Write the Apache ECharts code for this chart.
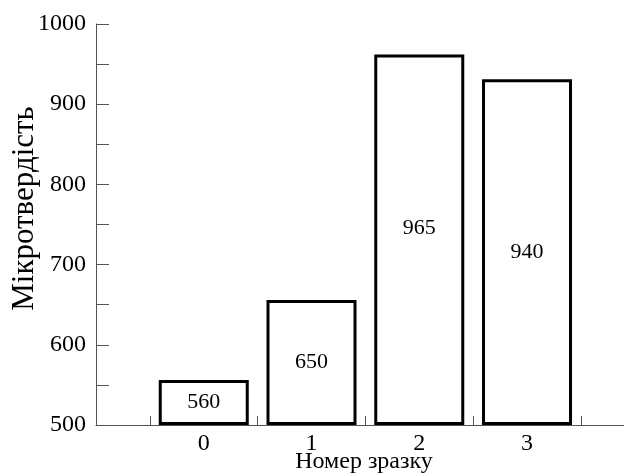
<!DOCTYPE html>
<html>
<head>
<meta charset="utf-8">
<script src="https://cdn.jsdelivr.net/npm/echarts@6/dist/echarts.min.js"></script>
<style>html,body{margin:0;padding:0;background:#fff}#c{width:624px;height:476px}</style>
</head>
<body>
<div id="c"></div>
<script>
const categories = [0, 1, 2, 3];
const barValues = [556, 656, 962, 931];
const barLabels = ['560', '650', '965', '940'];
const yTicks = [500, 600, 700, 800, 900, 1000];
const xTickPositions = [-0.5, 0, 0.5, 1, 1.5, 2, 2.5, 3, 3.5];
const xName = 'Номер зразку';
const yName = 'Мікротвердість';

const font = 'Liberation Serif';
const chart = echarts.init(document.getElementById('c'), null, {renderer: 'canvas'});
chart.setOption({
  animation: false,
  backgroundColor: '#fff',
  grid: {left: 96, right: 0, top: 24, bottom: 51, containLabel: false, outerBoundsMode: 'none'},
  xAxis: {
    type: 'value', min: -1, max: 3.9,
    splitLine: {show: false},
    axisLine: {show: true, onZero: false, lineStyle: {color: '#555', width: 1}},
    axisTick: {show: true, inside: true, length: 9, customValues: xTickPositions, lineStyle: {color: '#555'}},
    axisLabel: {show: true, customValues: categories, margin: 7, color: '#000', fontFamily: font, fontSize: 24},
    name: xName, nameLocation: 'middle', nameGap: 25, nameMoveOverlap: false,
    nameTextStyle: {color: '#000', fontFamily: font, fontSize: 24, padding: [0, 0, 0, 8]}
  },
  yAxis: {
    type: 'value', min: yTicks[0], max: yTicks[yTicks.length - 1], interval: 100,
    startValue: yTicks[0],
    splitLine: {show: false},
    axisLine: {show: true, onZero: false, lineStyle: {color: '#555', width: 1}},
    axisTick: {show: true, inside: true, length: 13, lineStyle: {color: '#555'}},
    minorTick: {show: true, splitNumber: 2, length: 13, lineStyle: {color: '#555'}},
    axisLabel: {margin: 10, color: '#000', fontFamily: font, fontSize: 24, formatter: v => String(v)},
    name: yName, nameLocation: 'middle', nameGap: 56, nameMoveOverlap: false,
    nameTextStyle: {color: '#000', fontFamily: font, fontSize: 31, padding: [0, 0, 0, 32]}
  },
  series: [{
    type: 'bar',
    data: categories.map((c, i) => i === 2
      ? {value: [c, barValues[i]], label: {offset: [0, -12]}}
      : {value: [c, barValues[i]]}),
    barWidth: 90,
    itemStyle: {color: '#fff', borderColor: '#000', borderWidth: 3},
    label: {
      show: true, position: 'inside', color: '#000', fontFamily: font, fontSize: 22,
      formatter: p => barLabels[p.dataIndex]
    }
  }]
});
</script>
</body>
</html>
